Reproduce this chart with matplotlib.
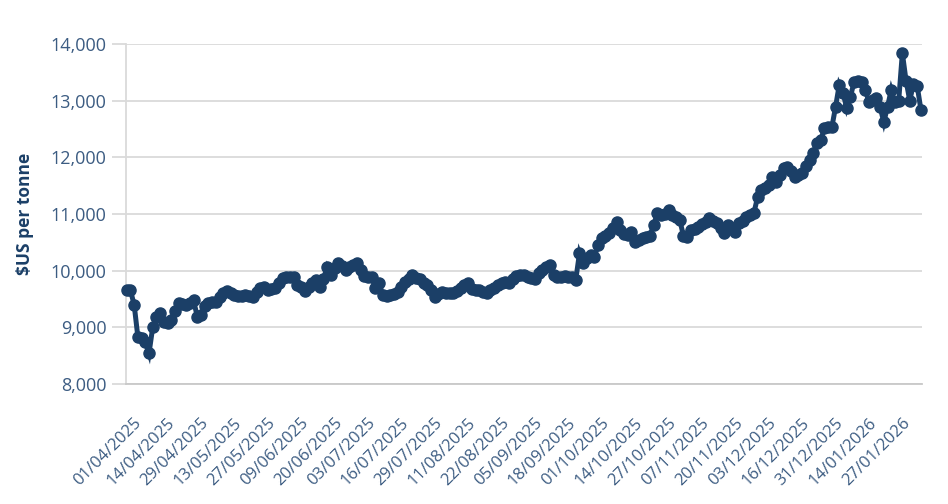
import numpy as np
import pandas as pd
import matplotlib
matplotlib.use("Agg")
import matplotlib.pyplot as plt
import matplotlib.transforms as mtrans
from matplotlib.ticker import FuncFormatter

# ==========================================
# Datos: precio diario (LME), USD por tonelada
# ==========================================
start_date = "2025-04-01"
uk_holidays = ["2025-04-18", "2025-04-21", "2025-05-05", "2025-05-26",
               "2025-08-25", "2025-12-25", "2025-12-26", "2026-01-01"]

prices = [
    9660, 9650, 9400, 8830, 8810, 8740, 8540, 9000, 9190, 9250,
    9100, 9070, 9130, 9280, 9430, 9420, 9390, 9430, 9480, 9190,
    9220, 9370, 9430, 9440, 9450, 9540, 9600, 9640, 9610, 9570,
    9560, 9560, 9570, 9550, 9540, 9630, 9690, 9710, 9660, 9670,
    9690, 9780, 9870, 9880, 9890, 9890, 9750, 9720, 9640, 9710,
    9780, 9840, 9710, 9860, 10060, 9920, 10050, 10130, 10080, 10010,
    10060, 10100, 10130, 10010, 9900, 9890, 9890, 9690, 9780, 9570,
    9560, 9570, 9590, 9630, 9720, 9800, 9860, 9920, 9870, 9850,
    9780, 9740, 9660, 9530, 9580, 9620, 9610, 9600, 9600, 9640,
    9690, 9740, 9780, 9680, 9660, 9660, 9630, 9600, 9650, 9690,
    9750, 9780, 9800, 9780, 9850, 9900, 9920, 9920, 9890, 9870,
    9850, 9960, 10010, 10060, 10100, 9920, 9890, 9890, 9900, 9890,
    9880, 9840, 10310, 10140, 10220, 10280, 10240, 10450, 10580, 10620,
    10660, 10760, 10860, 10720, 10650, 10630, 10680, 10500, 10540, 10580,
    10600, 10620, 10810, 11020, 10980, 11000, 11070, 10990, 10950, 10900,
    10620, 10600, 10720, 10740, 10770, 10830, 10860, 10930, 10880, 10840,
    10760, 10660, 10800, 10760, 10680, 10840, 10880, 10950, 10980, 11020,
    11300, 11420, 11460, 11520, 11650, 11560, 11680, 11810, 11830, 11760,
    11650, 11680, 11720, 11840, 11950, 12080, 12250, 12300, 12520, 12540,
    12530, 12890, 13280, 13140, 12870, 13070, 13330, 13340, 13330, 13190,
    12980, 13020, 13050, 12890, 12620, 12890, 13190, 12980, 12990, 13840,
    13350, 13000, 13300, 13260, 12840,
]

yticks = [8000, 9000, 10000, 11000, 12000, 13000, 14000]
label_step = 9

# días hábiles de la bolsa (sin feriados del Reino Unido)
bday = pd.offsets.CustomBusinessDay(holidays=uk_holidays)
dates = pd.date_range(start_date, periods=len(prices), freq=bday)
x = np.arange(len(prices))

# ==========================================
# Gráfico
# ==========================================
navy = "#1b3f67"
tick_col = "#3c5c82"
grid_col = "#dadada"
font = ["Open Sans", "DejaVu Sans"]

fig = plt.figure(figsize=(9.48, 5.04), dpi=100)
ax = fig.add_axes([0.1329, 0.2381, 0.9726 - 0.1329, 0.9127 - 0.2381])

ax.plot(x, prices, color=navy, linewidth=3.6, marker="o", markersize=8,
        solid_joinstyle="miter", clip_on=False, zorder=3)

ax.set_ylim(8000, 14000)
ax.set_xlim(-0.2, len(prices) - 0.7)
ax.set_yticks(yticks)
ax.yaxis.set_major_formatter(FuncFormatter(lambda v, p: f"{v:,.0f}"))
ax.grid(axis="y", color=grid_col, linewidth=1.3)
ax.set_axisbelow(True)

ticks = x[::label_step]
ax.set_xticks(ticks)
ax.set_xticklabels([d.strftime("%d/%m/%Y") for d in dates[::label_step]],
                   rotation=45, ha="right", rotation_mode="anchor")

for s in ["top", "right"]:
    ax.spines[s].set_visible(False)
ax.spines["left"].set_color(grid_col)
ax.spines["left"].set_linewidth(1.3)
ax.spines["bottom"].set_color("#c8c8c8")
ax.spines["bottom"].set_linewidth(1.3)

ax.tick_params(axis="y", length=10, width=1.3, color=grid_col, pad=4,
               labelsize=13, labelcolor=tick_col)
ax.tick_params(axis="x", length=0, pad=8, labelsize=12, labelcolor=tick_col)

# desplazar las etiquetas del eje x (como en el original)
shift = mtrans.ScaledTranslation(0.07, -0.20, fig.dpi_scale_trans)
for lab in ax.get_xticklabels():
    lab.set_transform(lab.get_transform() + shift)
for lab in ax.get_xticklabels() + ax.get_yticklabels():
    lab.set_fontfamily(font)

ax.set_ylabel("\\$US per tonne", color=navy, fontsize=12.5, fontweight="bold",
              family=font, labelpad=12)

fig.savefig("out.png", dpi=100)
